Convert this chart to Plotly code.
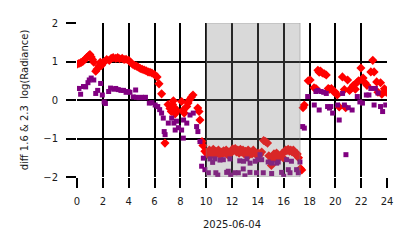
import plotly.graph_objects as go

# Red series (diamonds): hour, value
red_h = [0.0, 0.15, 0.3, 0.45, 0.6, 0.75, 0.9, 1.0, 1.1, 1.2, 1.3, 1.45, 1.55, 1.7, 1.8, 1.9,
         2.0, 2.15, 2.3, 2.5, 2.65, 2.8, 3.0, 3.15, 3.3, 3.5, 3.65, 3.8, 4.0, 4.15, 4.3, 4.45,
         4.6, 4.75, 4.9, 5.05, 5.2, 5.35, 5.5, 5.65, 5.8, 6.0, 6.2, 6.35, 6.55, 6.81,
         7.05, 7.2, 7.3, 7.4, 7.46, 7.55, 7.6, 7.75, 8.1, 8.2, 8.3, 8.5, 8.6, 8.7, 8.85, 8.98,
         9.35, 9.45, 9.52, 9.68, 9.75, 9.9,
         10.05, 10.15, 10.25, 10.35, 10.45, 10.55, 10.65, 10.75, 10.85, 10.95, 11.05, 11.15,
         11.25, 11.35, 11.45, 11.55, 11.65, 11.75, 11.85, 11.95, 12.05, 12.15, 12.25, 12.35,
         12.45, 12.55, 12.65, 12.75, 12.85, 12.95, 13.05, 13.15, 13.25, 13.35, 13.45, 13.55,
         13.65, 13.75, 13.85, 13.95, 14.05, 14.15, 14.3, 14.45, 14.6, 14.75, 14.85, 14.95,
         15.05, 15.15, 15.25, 15.35, 15.45, 15.55, 15.65, 15.75, 15.85, 15.95, 16.05, 16.15,
         16.25, 16.35, 16.45, 16.55, 16.65, 16.75, 16.85, 16.95, 17.05, 17.15, 17.3, 17.4,
         17.5, 17.6, 17.9, 18.05, 18.35, 18.5, 18.65, 18.75, 18.85, 19.0, 19.15, 19.3, 19.45,
         19.55, 19.7, 19.85, 20.0, 20.15, 20.3, 20.55, 20.7, 20.8, 20.95, 21.1, 21.25, 21.4,
         21.55, 21.7, 21.8, 21.98, 22.15, 22.3, 22.45, 22.75, 22.9, 23.0, 23.2, 23.3, 23.5,
         23.6, 23.8, 23.95]
red_v = [0.93, 0.95, 0.97, 1.0, 1.05, 1.1, 1.15, 1.18, 1.12, 1.05, 0.98, 0.75, 0.8, 0.88, 0.98, 0.9,
         0.97, 1.0, 1.05, 1.03, 1.08, 1.1, 1.08, 1.1, 1.07, 1.08, 1.05, 1.06, 1.03, 0.98, 0.93, 0.9,
         0.88, 0.85, 0.82, 0.8, 0.78, 0.76, 0.73, 0.72, 0.7, 0.66, 0.6, 0.42, 0.16, -1.12,
         -0.12, -0.22, -0.3, -0.12, -0.02, -0.2, -0.36, -0.28, -0.04, -0.27, -0.34, -0.17, -0.08, 0.0, 0.07, 0.13,
         -0.21, -0.3, -0.52, -1.08, -1.18, -1.33,
         -1.38, -1.42, -1.3, -1.45, -1.35, -1.28, -1.4, -1.33, -1.38, -1.3, -1.42, -1.35,
         -1.4, -1.32, -1.37, -1.3, -1.42, -1.35, -1.4, -1.33, -1.27, -1.3, -1.26, -1.35,
         -1.3, -1.38, -1.28, -1.35, -1.3, -1.4, -1.33, -1.38, -1.3, -1.42, -1.35, -1.4,
         -1.3, -1.36, -1.4, -1.45, -1.38, -1.42, -1.35, -1.05, -1.08, -1.12, -1.45, -1.6,
         -1.7, -1.55, -1.4, -1.48, -1.38, -1.42, -1.5, -1.45, -1.4, -1.5, -1.35, -1.3,
         -1.32, -1.28, -1.33, -1.3, -1.35, -1.3, -1.38, -1.42, -1.4, -1.5, -1.78, -1.82,
         -0.2, -0.13, 0.5, 0.52, 0.32, 0.3, 0.77, 0.72, 0.75, 0.7, 0.68, 0.65, 0.3,
         0.28, 0.3, 0.22, 0.2, 0.13, -0.18, 0.6, 0.27, -0.2, 0.52, 0.25, 0.31, 0.38,
         0.28, 0.46, 0.5, 0.83, 0.57, 0.45, 0.38, 0.73, 1.03, 0.73, 0.47, 0.2, 0.45,
         0.15, 0.29, 0.2]

# Purple series (squares): hour, value
purple_h = [0.0, 0.15, 0.28, 0.5, 0.67, 0.85, 0.95, 1.1, 1.3, 1.45, 1.6, 1.83, 1.96, 2.1, 2.2,
            2.45, 2.6, 2.85, 3.0, 3.2, 3.4, 3.6, 3.8, 3.95, 4.1, 4.35, 4.54, 4.6, 4.8, 5.0, 5.15,
            5.3, 5.6, 5.8, 6.05, 6.25, 6.4, 6.55, 6.68, 6.75, 6.82, 7.07, 7.33, 7.5, 7.6, 7.7,
            7.85, 8.1, 8.23, 8.25, 8.5, 8.75, 9.0, 9.26, 9.36, 9.52, 9.65, 9.78, 9.9,
            10.17, 10.3, 10.5, 10.68, 10.75, 10.9, 11.07, 11.33, 11.59, 11.71, 11.84, 11.9,
            12.23, 12.49, 12.6, 12.87, 12.9, 13.0, 13.16, 13.39, 13.4, 13.8, 13.9, 14.0, 14.17,
            14.3, 14.42, 14.8, 15.07, 15.07, 15.46, 15.58, 15.84, 16.0, 16.23, 16.36, 16.49,
            16.6, 17.0, 17.13, 17.26,
            17.47, 17.6, 17.86, 18.37, 18.5, 18.65, 18.75, 18.9, 19.1, 19.3, 19.4, 19.55, 19.65,
            19.79, 20.18, 20.3, 20.56, 20.7, 20.82, 21.0, 21.3, 21.7, 21.9, 22.1, 22.4, 22.6,
            22.75, 23.0, 23.1, 23.3, 23.5, 23.66, 23.9]
purple_v = [0.3, 0.3, 0.15, 0.35, 0.34, 0.45, 0.52, 0.57, 0.52, 0.17, 0.25, 0.43, 0.13, -0.05, -0.09,
            0.22, 0.31, 0.28, 0.3, 0.27, 0.25, 0.25, 0.2, 0.22, 0.2, 0.08, 0.26, 0.07, 0.06, 0.07, 0.06,
            0.07, -0.08, -0.07, -0.13, -0.17, -0.25, -0.34, -0.47, -0.82, -0.9, -0.6, -0.47, -0.6, -0.78, -0.55,
            -0.72, -0.78, -0.99, -0.52, -0.6, -0.39, -0.34, -0.69, -0.82, -1.08, -1.72, -1.51, -1.81,
            -1.89, -1.53, -1.62, -1.53, -1.89, -1.95, -1.56, -1.55, -1.88, -1.85, -1.53, -1.95,
            -1.89, -1.89, -1.58, -1.79, -1.59, -1.97, -1.53, -1.88, -1.64, -1.59, -1.89, -1.55, -1.42,
            -1.55, -1.89, -1.61, -1.64, -1.91, -1.64, -1.61, -1.88, -1.98, -1.55, -1.81, -1.89,
            -1.59, -1.81, -1.89, -1.61,
            -0.69, -0.73, 0.09, -0.13, 0.22, 0.25, -0.26, 0.22, 0.2, 0.17, -0.17, -0.21, -0.17,
            -0.34, -0.13, -0.52, 0.17, -0.13, -1.42, -0.2, -0.26, 0.09, -0.05, -0.08, 0.13, 0.13,
            0.3, -0.13, 0.3, 0.18, -0.17, -0.3, -0.13]

x_ticks = [0, 2, 4, 6, 8, 10, 12, 14, 16, 18, 20, 22, 24]
y_ticks = [-2, -1, 0, 1, 2]
shade_start, shade_end = 10.0, 17.27
date_label = "2025-06-04"
y_label = "diff 1.6 & 2.3  log(Radiance)"

font = dict(family="DejaVu Sans", size=10, color="#1a1a1a")

fig = go.Figure()
fig.add_trace(go.Scatter(x=red_h, y=red_v, mode="markers",
                         marker=dict(symbol="diamond", size=7, color="#ff0000", line=dict(width=0)),
                         showlegend=False))
fig.add_trace(go.Scatter(x=purple_h, y=purple_v, mode="markers",
                         marker=dict(symbol="square", size=5, color="#800080", line=dict(width=0)),
                         showlegend=False))

fig.add_shape(type="rect", xref="x", yref="y", x0=shade_start, x1=shade_end, y0=-2, y1=2,
              fillcolor="rgba(128,128,128,0.3)", line=dict(color="rgba(128,128,128,0.45)", width=1),
              layer="above")

fig.update_layout(
    width=414, height=248,
    margin=dict(l=77, r=27, t=23, b=71),
    paper_bgcolor="white", plot_bgcolor="white",
    font=font,
    showlegend=False,
)
fig.update_xaxes(range=[0, 24], tickvals=x_ticks, ticktext=[str(t) for t in x_ticks],
                 showgrid=True, gridcolor="black", gridwidth=2,
                 ticks="outside", ticklen=10, tickwidth=2, tickcolor="black",
                 zeroline=False, showline=False,
                 ticklabelstandoff=5,
                 title=dict(text=date_label, font=font, standoff=14),
                 tickfont=font)
fig.update_yaxes(range=[-2, 2], tickvals=y_ticks,
                 showgrid=True, gridcolor="black", gridwidth=2,
                 ticks="outside", ticklen=10, tickwidth=2, tickcolor="black",
                 zeroline=False, showline=False,
                 ticklabelstandoff=6,
                 title=dict(text=y_label, font=font, standoff=12),
                 tickfont=font)

fig.write_html("out.html")
